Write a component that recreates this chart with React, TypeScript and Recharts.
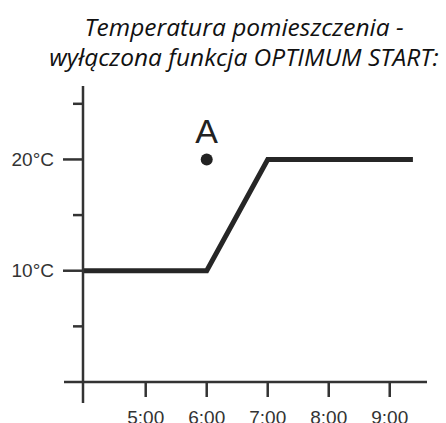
import React from 'react';
import { LineChart, Line, XAxis, YAxis, ReferenceDot } from 'recharts';

const titleLines = ['Temperatura pomieszczenia -', 'wyłączona funkcja OPTIMUM START:'];

// hours (x) and temperature °C (y)
const timeValues = [3.972, 6, 7, 9.38];
const tempValues = [10, 10, 20, 20];

const xDomain: [number, number] = [3.972, 9.611];
const yDomain: [number, number] = [0, 26.6];

const xTicks = [5, 6, 7, 8, 9];
const xTickLabels = ['5:00', '6:00', '7:00', '8:00', '9:00'];
const yTicks = [0, 5, 10, 15, 20, 25];
const yTickLabels: Record<number, string> = { 10: '10°C', 20: '20°C' };

const pointA = { t: 6, v: 20, label: 'A' };

const data = timeValues.map((t, i) => ({ t, v: tempValues[i] }));

const AXIS = '#333333';
const AXIS_W = 2.5;
const FONT = '"Liberation Sans", Arial, sans-serif';

const XTick = (props: any) => {
  const { x, y, payload } = props;
  const v = payload.value;
  const idx = xTicks.indexOf(v);
  if (idx < 0) {
    // y-axis extension below x-axis
    return <line x1={x} x2={x} y1={y} y2={y + 21} stroke={AXIS} strokeWidth={AXIS_W} />;
  }
  return (
    <g>
      <line x1={x} x2={x} y1={y} y2={y + 15} stroke={AXIS} strokeWidth={AXIS_W} />
      <text x={x} y={y + 41.5} textAnchor="middle" fontSize={19} fill="#333" fontFamily={FONT}>
        {xTickLabels[idx]}
      </text>
    </g>
  );
};

const YTick = (props: any) => {
  const { x, y, payload } = props;
  const v = payload.value;
  const label = yTickLabels[v];
  const len = v === 0 ? 19 : label ? 20 : 10;
  return (
    <g>
      <line x1={x - len} x2={x} y1={y} y2={y} stroke={AXIS} strokeWidth={AXIS_W} />
      {label ? (
        <text x={x - len - 9} y={y} dy="0.355em" textAnchor="end" fontSize={19} fill="#333" fontFamily={FONT}>
          {label}
        </text>
      ) : null}
    </g>
  );
};

export default function App() {
  return (
    <div style={{ position: 'absolute', left: 0, top: 0, width: 446, height: 423, background: '#fff' }}>
      <div
        style={{
          position: 'absolute',
          left: 44,
          top: 11.5,
          width: 400,
          textAlign: 'center',
          fontFamily: '"Open Sans", sans-serif',
          fontStyle: 'italic',
          fontSize: 24.5,
          lineHeight: '30px',
          color: '#111',
          whiteSpace: 'nowrap',
        }}
      >
        {titleLines.map((l) => (
          <div key={l}>{l}</div>
        ))}
      </div>
      <LineChart width={446} height={423} data={data} margin={{ top: 86, right: 19, bottom: 0, left: 0 }}>
        <XAxis
          dataKey="t"
          type="number"
          domain={xDomain}
          ticks={[xDomain[0], ...xTicks]}
          interval={0}
          allowDataOverflow
          height={41}
          tickSize={0}
          tickMargin={0}
          tickLine={false}
          axisLine={{ stroke: AXIS, strokeWidth: AXIS_W }}
          tick={<XTick />}
        />
        <YAxis
          type="number"
          domain={yDomain}
          ticks={yTicks}
          interval={0}
          allowDataOverflow
          width={83}
          tickSize={0}
          tickMargin={0}
          tickLine={false}
          axisLine={{ stroke: AXIS, strokeWidth: AXIS_W }}
          tick={<YTick />}
        />
        <Line
          dataKey="v"
          stroke="#262626"
          strokeWidth={5}
          strokeLinejoin="miter"
          dot={false}
          activeDot={false}
          isAnimationActive={false}
        />
        <ReferenceDot
          x={pointA.t}
          y={pointA.v}
          r={6}
          fill="#222"
          stroke="none"
          label={{ value: pointA.label, position: 'top', offset: 10, fontSize: 34, fill: '#222', fontFamily: FONT }}
        />
      </LineChart>
    </div>
  );
}
